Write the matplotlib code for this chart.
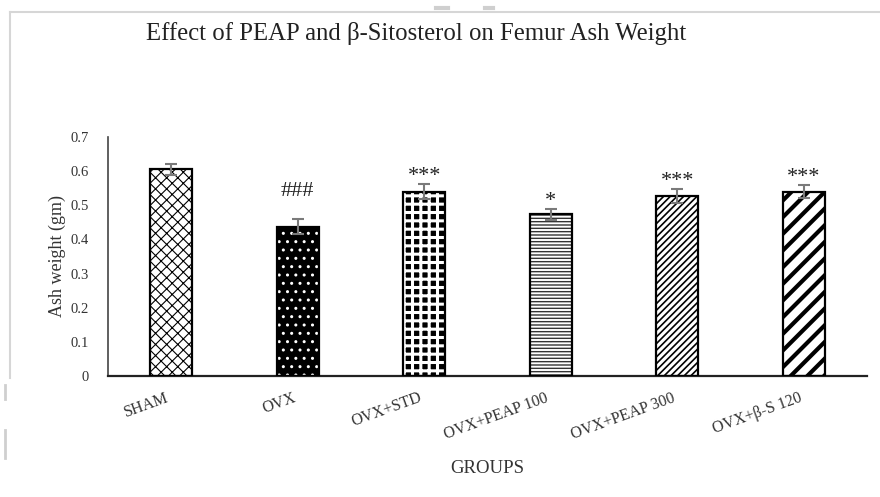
import matplotlib
matplotlib.use("Agg")
import matplotlib.pyplot as plt
from matplotlib.lines import Line2D
import numpy as np

plt.rcParams['font.family'] = ['Liberation Serif', 'DejaVu Serif']

# ---- data ----
groups = ['SHAM', 'OVX', 'OVX+STD', 'OVX+PEAP 100', 'OVX+PEAP 300', 'OVX+\u03b2-S 120']
means = [0.605, 0.437, 0.540, 0.474, 0.527, 0.540]
errors = [0.016, 0.022, 0.022, 0.016, 0.021, 0.019]
significance = ['', '###', '***', '*', '***', '***']
yticks = [0, 0.1, 0.2, 0.3, 0.4, 0.5, 0.6, 0.7]
ytick_labels = ['0', '0.1', '0.2', '0.3', '0.4', '0.5', '0.6', '0.7']
title = 'Effect of PEAP and \u03b2-Sitosterol on Femur Ash Weight'
ylabel = 'Ash weight (gm)'
xlabel = 'GROUPS'

# ---- styles ----
faces = ['white', 'black', 'black', 'white', 'white', 'white']
hatch_cols = ['black', 'white', 'white', '#333333', 'black', 'black']
hatches = ['xxx', '..', '++', '-----', '/////', '//']
hatch_lw = [0.8, 1.0, 2.2, 1.0, 1.2, 3.0]

fig = plt.figure(figsize=(8.8, 4.97), dpi=100)
ax = fig.add_axes([108/880, 1-376/497, (867-108)/880, (376-137)/497])

x = np.arange(len(groups))
bars = ax.bar(x, means, width=0.33, color=faces, edgecolor=hatch_cols,
              linewidth=0, zorder=2)
for b, h, lw in zip(bars, hatches, hatch_lw):
    b.set_hatch(h)
    if hasattr(b, 'set_hatch_linewidth'):
        b.set_hatch_linewidth(lw)
ax.bar(x, means, width=0.33, fill=False, edgecolor='black', linewidth=1.6, zorder=3)
ax.errorbar(x, means, yerr=errors, fmt='none', ecolor='#7a7a7a', elinewidth=1.5,
            capsize=4, capthick=1.5, zorder=4)

for xi, m, e, s in zip(x, means, errors, significance):
    if not s:
        continue
    off = 17 if '#' in s else 2
    ax.annotate(s, (xi, m + e), xytext=(0, off), textcoords='offset points',
                ha='center', va='baseline', fontsize=16, color='#222222', zorder=5)

ax.set_xlim(-0.5, 5.5)
ax.set_ylim(0, 0.7)
ax.set_yticks(yticks)
ax.set_yticklabels(ytick_labels, fontsize=10.5, color='#333333')
ax.set_xticks(x)
ax.set_xticklabels(groups, rotation=20, ha='right', fontsize=11.5, color='#333333')
ax.tick_params(axis='y', length=0, pad=14)
ax.tick_params(axis='x', length=0, pad=10)
for sp in ['top', 'right']:
    ax.spines[sp].set_visible(False)
ax.spines['left'].set_color('#444444')
ax.spines['bottom'].set_color('#222222')
ax.spines['left'].set_linewidth(1.2)
ax.spines['bottom'].set_linewidth(1.6)

ax.set_ylabel(ylabel, fontsize=13, color='#333333')
ax.yaxis.set_label_coords((66-108)/759, 0.5)
ax.set_xlabel(xlabel, fontsize=13.5, color='#333333')
ax.xaxis.set_label_coords(0.5, (376-460)/239)

fig.text(416/880, 1-40/497, title, ha='center', va='baseline', fontsize=17.8, color='#222222')

# screenshot frame
def fl(xs, ys, **kw):
    fig.add_artist(Line2D([v/880 for v in xs], [1-v/497 for v in ys],
                          transform=fig.transFigure, **kw))

fl([10, 880], [12, 12], color='#d6d6d6', lw=1.5)
fl([10, 10], [12, 378], color='#d6d6d6', lw=1.5)
fl([5, 5], [385, 399], color='#cfcfcf', lw=2)
fl([5, 5], [430, 458], color='#cfcfcf', lw=2)
fl([436, 448], [8, 8], color='#cfcfcf', lw=3)
fl([485, 493], [8, 8], color='#cfcfcf', lw=3)

fig.savefig('out.png', dpi=100)
